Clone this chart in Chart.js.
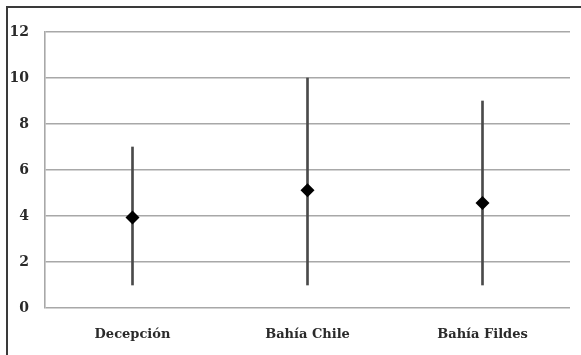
<!DOCTYPE html>
<html>
<head>
<meta charset="utf-8">
<script src="https://cdn.jsdelivr.net/npm/chart.js@4/dist/chart.umd.min.js"></script>
<style>
  html, body { margin: 0; padding: 0; background: #fff; overflow: hidden; }
  #wrap { position: relative; width: 581px; height: 355px; overflow: hidden; }
  canvas { position: absolute; left: 0; top: 0; }
  .edge { position: absolute; background: #3a3a3a; pointer-events: none; }
  #edgeTop { left: 6px; top: 6px; width: 575px; height: 2px; }
  #edgeLeft { left: 6px; top: 6px; width: 2px; height: 349px; }
</style>
</head>
<body>
<div id="wrap">
  <canvas id="c" width="581" height="355"></canvas>
  <div class="edge" id="edgeTop"></div>
  <div class="edge" id="edgeLeft"></div>
</div>
<script>
// Sites sampled and their range (min–max) with the mean value
const categories = ['Decepción', 'Bahía Chile', 'Bahía Fildes'];
const lowValues  = [1, 1, 1];
const highValues = [7, 10, 9];
const meanValues = [3.94, 5.12, 4.57];
const yTicks = [0, 2, 4, 6, 8, 10, 12];

const rangeData = categories.map((c, i) => [lowValues[i], highValues[i]]);

const fontFamily = '"DejaVu Serif", "Liberation Serif", serif';

new Chart(document.getElementById('c'), {
  data: {
    labels: categories,
    datasets: [
      {
        type: 'line',
        data: meanValues,
        showLine: false,
        pointStyle: 'rectRot',
        pointRadius: 7,
        pointBackgroundColor: '#000',
        pointBorderColor: '#000',
        pointBorderWidth: 0,
        order: 0
      },
      {
        type: 'bar',
        data: rangeData,
        backgroundColor: '#4a4a4a',
        borderWidth: 0,
        barThickness: 2,
        borderSkipped: false,
        order: 1
      }
    ]
  },
  options: {
    responsive: false,
    animation: false,
    layout: { padding: { top: 32, right: 11, left: 0, bottom: 0 } },
    plugins: { legend: { display: false }, tooltip: { enabled: false } },
    scales: {
      x: {
        type: 'category',
        offset: true,
        grid: { display: false, drawTicks: false },
        border: { display: false },
        ticks: {
          color: '#2a2a2a',
          padding: 19,
          font: { family: fontFamily, size: 13, weight: 'bold' }
        },
        afterFit(scale) { scale.height = 47; }
      },
      y: {
        min: 0,
        max: 12,
        afterBuildTicks(scale) { scale.ticks = yTicks.map(v => ({ value: v })); },
        grid: { color: '#a8a8a8', lineWidth: 1.6, drawTicks: false },
        border: { display: true, color: '#a8a8a8', width: 1.6 },
        ticks: {
          color: '#2a2a2a',
          padding: 16,
          font: { family: fontFamily, size: 14, weight: 'bold' }
        },
        afterFit(scale) { scale.width = 45; }
      }
    }
  }
});
</script>
</body>
</html>
